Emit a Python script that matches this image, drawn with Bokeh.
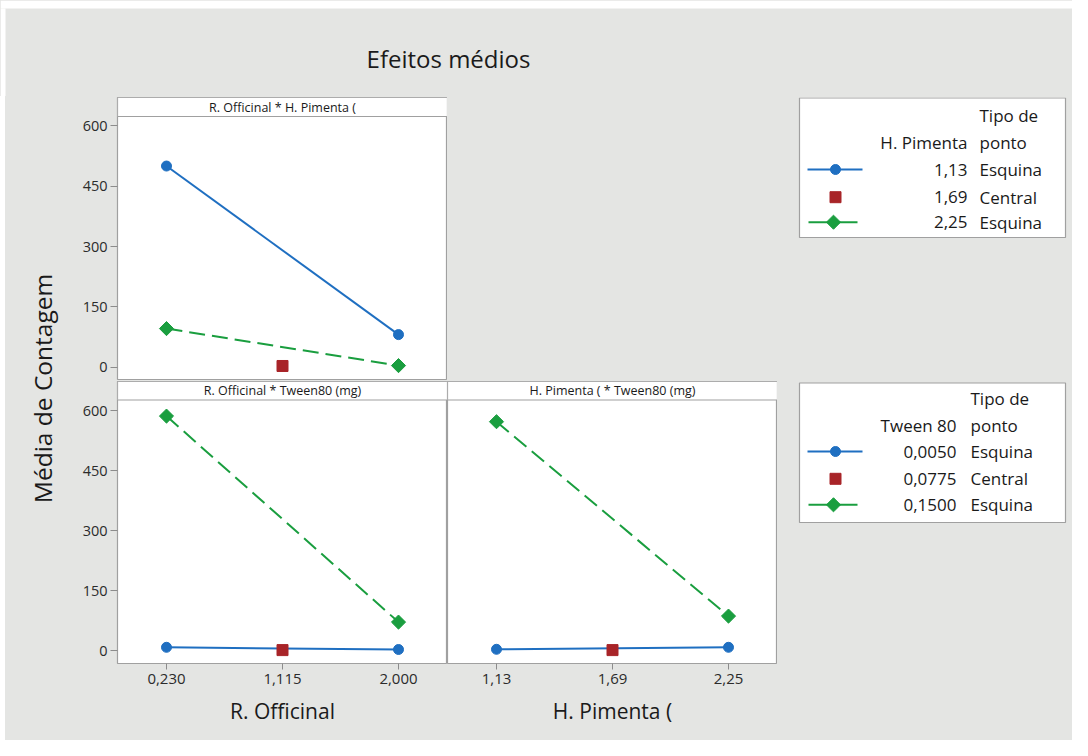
import math
from bokeh.plotting import figure
from bokeh.layouts import row, column
from bokeh.models import Range1d, FixedTicker, Spacer
from bokeh.core.properties import value
from bokeh.embed import file_html
from bokeh.resources import INLINE

# ---------------- data ----------------
r_officinal = [0.230, 1.115, 2.000]
r_officinal_labels = ["0,230", "1,115", "2,000"]
h_pimenta = [1.13, 1.69, 2.25]
h_pimenta_labels = ["1,13", "1,69", "2,25"]
tween80_labels = ["0,0050", "0,0775", "0,1500"]
tipo_ponto = ["Esquina", "Central", "Esquina"]

# Panel 1: R. Officinal (x) by H. Pimenta
p1_hp_low = [500, 81]     # H. Pimenta 1,13 at R. Officinal 0,230 / 2,000
p1_hp_center = [3]        # H. Pimenta 1,69 at R. Officinal 1,115
p1_hp_high = [96, 4]      # H. Pimenta 2,25
# Panel 2: R. Officinal (x) by Tween 80
p2_tw_low = [8, 2.5]
p2_tw_center = [1]
p2_tw_high = [586, 71]
# Panel 3: H. Pimenta (x) by Tween 80
p3_tw_low = [3, 8]
p3_tw_center = [1]
p3_tw_high = [572, 86]

y_ticks = [0, 150, 300, 450, 600]

# ---------------- style ----------------
BG = "#e4e5e3"
FRAME = "#a0a0a0"
BLUE = "#1f6fc1"
RED = "#a82428"
GREEN = "#1a9e3f"
TXT = "#1a1a1a"
FONT = "Open Sans"
DIAMOND = dict(marker="square", angle=math.pi / 4, size=10)


def base_fig(w, h, xr, yr, mbt=0, mbb=0):
    p = figure(width=w, height=h, x_range=xr, y_range=yr, output_backend="svg",
               toolbar_location=None, x_axis_location=None, y_axis_location=None,
               min_border=0, title=None,
               background_fill_color=BG, border_fill_color=BG, outline_line_color=None)
    p.min_border_top = mbt
    p.min_border_bottom = mbb
    p.grid.visible = False
    return p


def panel(w, h, mbl, mbt, mbb, levels, labels, ystart, yend, header, hfrac,
          low, center, high, xlabel=None, show_y=True):
    span = levels[-1] - levels[0]
    pad = span * 0.2112
    p = figure(width=w, height=h, output_backend="svg", toolbar_location=None, title=None,
               x_range=Range1d(levels[0] - pad, levels[-1] + pad),
               y_range=Range1d(ystart, yend),
               x_axis_location="below" if xlabel else None,
               y_axis_location="left" if show_y else None,
               min_border_left=mbl, min_border_right=0, min_border_top=mbt,
               min_border_bottom=mbb,
               background_fill_color="white", border_fill_color=BG,
               outline_line_color=FRAME, outline_line_width=1.2)
    p.grid.visible = False
    p.extra_x_ranges = {"sx": Range1d(0, 1)}
    p.extra_y_ranges = {"sy": Range1d(0, 1)}
    # header strip
    p.quad(left=[0], right=[1], bottom=[hfrac], top=[1], x_range_name="sx", y_range_name="sy",
           fill_color="white", line_color=FRAME, line_width=1.2)
    p.text(x=[0.5], y=[(hfrac + 1) / 2], text=[header], x_range_name="sx", y_range_name="sy",
           text_align="center", text_baseline="middle", text_font=value(FONT),
           text_font_size="12.5px", text_color=TXT)
    xs_corner = [levels[0], levels[-1]]
    # lines
    p.line(xs_corner, low, line_color=BLUE, line_width=2)
    p.line(xs_corner, high, line_color=GREEN, line_width=2, line_dash="16 7")
    # markers
    p.scatter(xs_corner, low, marker="circle", size=10, fill_color=BLUE, line_color=BLUE)
    p.scatter([levels[1]], center, marker="square", size=11, fill_color=RED, line_color=RED)
    p.scatter(xs_corner, high, fill_color=GREEN, line_color=GREEN, **DIAMOND)

    if show_y:
        ax = p.yaxis[0]
        ax.ticker = FixedTicker(ticks=y_ticks)
        ax.major_tick_out = 7
        ax.major_tick_in = 0
        ax.minor_tick_line_color = None
        ax.axis_line_color = None
        ax.major_tick_line_color = "#8c8c8c"
        ax.major_label_text_font = FONT
        ax.major_label_text_font_size = "14.5px"
        ax.major_label_text_color = "#2b2b2b"
        ax.major_label_standoff = 3
    if xlabel:
        ax = p.xaxis[0]
        ax.ticker = FixedTicker(ticks=levels)
        ax.major_label_overrides = dict(zip(levels, labels))
        ax.major_tick_out = 6
        ax.major_tick_in = 0
        ax.minor_tick_line_color = None
        ax.axis_line_color = None
        ax.major_tick_line_color = "#8c8c8c"
        ax.major_label_text_font = FONT
        ax.major_label_text_font_size = "15px"
        ax.major_label_text_color = "#2b2b2b"
        ax.major_label_standoff = 4
        ax.axis_label = xlabel
        ax.axis_label_text_font = FONT
        ax.axis_label_text_font_size = "21px"
        ax.axis_label_text_font_style = "normal"
        ax.axis_label_text_color = TXT
        ax.axis_label_standoff = 10
    return p


# ---- title ----
title_fig = base_fig(1072, 96, Range1d(0, 1072), Range1d(96, 0))
title_fig.quad(left=[0], right=[1072], top=[0], bottom=[8], fill_color="white", line_color=None)
title_fig.quad(left=[0], right=[5], top=[8], bottom=[96], fill_color="white", line_color=None)
title_fig.text(x=[448], y=[58], text=["Efeitos médios"], text_align="center",
               text_baseline="middle", text_font=value(FONT), text_font_size="24px",
               text_color=TXT)

# ---- y label (shared axis title, drawn as an axis label of a narrow strip) ----
ylab_fig = figure(width=55, height=644, x_range=Range1d(0, 1), y_range=Range1d(0, 1),
                  output_backend="svg", toolbar_location=None, title=None,
                  x_axis_location=None, y_axis_location="left",
                  min_border_left=53, min_border_right=0, min_border_top=0,
                  min_border_bottom=60,
                  background_fill_color=BG, border_fill_color=BG, outline_line_color=None)
ylab_fig.grid.visible = False
yax = ylab_fig.yaxis[0]
yax.ticker = FixedTicker(ticks=[])
yax.major_tick_out = 0
yax.major_tick_in = 0
yax.minor_tick_line_color = None
yax.major_tick_line_color = None
yax.axis_line_color = None
yax.major_label_standoff = 0
yax.axis_label = "Média de Contagem"
yax.axis_label_text_font = FONT
yax.axis_label_text_font_size = "24.5px"
yax.axis_label_text_font_style = "normal"
yax.axis_label_text_color = TXT
yax.axis_label_standoff = 0

left_margin = Spacer(width=5, height=644, styles={"background-color": "white"})

# ---- panels ----
k1 = 241.4 / 600
fig1 = panel(387, 285, 57, 1, 2, r_officinal, r_officinal_labels,
             -(379 - 366.7) / k1, 600 + (125.3 - 97) / k1,
             "R. Officinal * H. Pimenta (", (379 - 116) / 282,
             p1_hp_low, p1_hp_center, p1_hp_high, xlabel=None, show_y=True)
k2 = 0.4
y2s, y2e = -(663 - 650) / k2, 600 + (410 - 381) / k2
hf2 = (663 - 399.5) / 282
fig2 = panel(387, 359, 57, 0, 77, r_officinal, r_officinal_labels, y2s, y2e,
             "R. Officinal * Tween80 (mg)", hf2, p2_tw_low, p2_tw_center, p2_tw_high,
             xlabel="R. Officinal", show_y=True)
fig3 = panel(330, 359, 0, 0, 77, h_pimenta, h_pimenta_labels, y2s, y2e,
             "H. Pimenta ( * Tween80 (mg)", hf2, p3_tw_low, p3_tw_center, p3_tw_high,
             xlabel="H. Pimenta (", show_y=False)


# ---- legends ----
def draw_legend(p, top, bottom, var_name, vals, val_right, txt_left, y_head1, y_head2, rows_y):
    p.quad(left=[799], right=[1065], top=[top], bottom=[bottom], fill_color="white",
           line_color=FRAME, line_width=1.2)
    kw = dict(text_baseline="middle", text_font=value(FONT), text_font_size="17px",
              text_color=TXT)
    p.text(x=[txt_left], y=[y_head1], text=["Tipo de"], text_align="left", **kw)
    p.text(x=[txt_left], y=[y_head2], text=["ponto"], text_align="left", **kw)
    p.text(x=[val_right], y=[y_head2], text=[var_name], text_align="right", **kw)
    p.text(x=[val_right] * 3, y=rows_y, text=vals, text_align="right", **kw)
    p.text(x=[txt_left] * 3, y=rows_y, text=tipo_ponto, text_align="left", **kw)
    p.line([807, 862], [rows_y[0]] * 2, line_color=BLUE, line_width=2)
    p.scatter([835], [rows_y[0]], marker="circle", size=10, fill_color=BLUE, line_color=BLUE)
    p.scatter([835], [rows_y[1]], marker="square", size=11, fill_color=RED, line_color=RED)
    p.line([808, 857], [rows_y[2]] * 2, line_color=GREEN, line_width=2)
    p.scatter([833], [rows_y[2]], fill_color=GREEN, line_color=GREEN, **DIAMOND)


# legend figures: their frames align with the neighbouring panel frames
leg1 = base_fig(625, 285, Range1d(447, 1072), Range1d(379, 97), mbt=1, mbb=2)
draw_legend(leg1, 97.5, 237, "H. Pimenta", h_pimenta_labels, 967, 979, 115, 141.7,
            [169, 196.7, 221.7])
leg2 = base_fig(295, 359, Range1d(777, 1072), Range1d(663, 381), mbt=0, mbb=77)
draw_legend(leg2, 382.5, 522, "Tween 80", tween80_labels, 956, 970, 397.7, 425,
            [451, 478.3, 504.3])

bgs = {"background-color": BG}
layout = column(
    title_fig,
    row(left_margin, ylab_fig,
        column(row(fig1, leg1, spacing=0, styles=bgs),
               row(fig2, fig3, leg2, spacing=0, styles=bgs), spacing=0, styles=bgs),
        spacing=0, styles=bgs),
    spacing=0, styles=bgs)

open("out.html", "w").write(file_html(layout, INLINE))
